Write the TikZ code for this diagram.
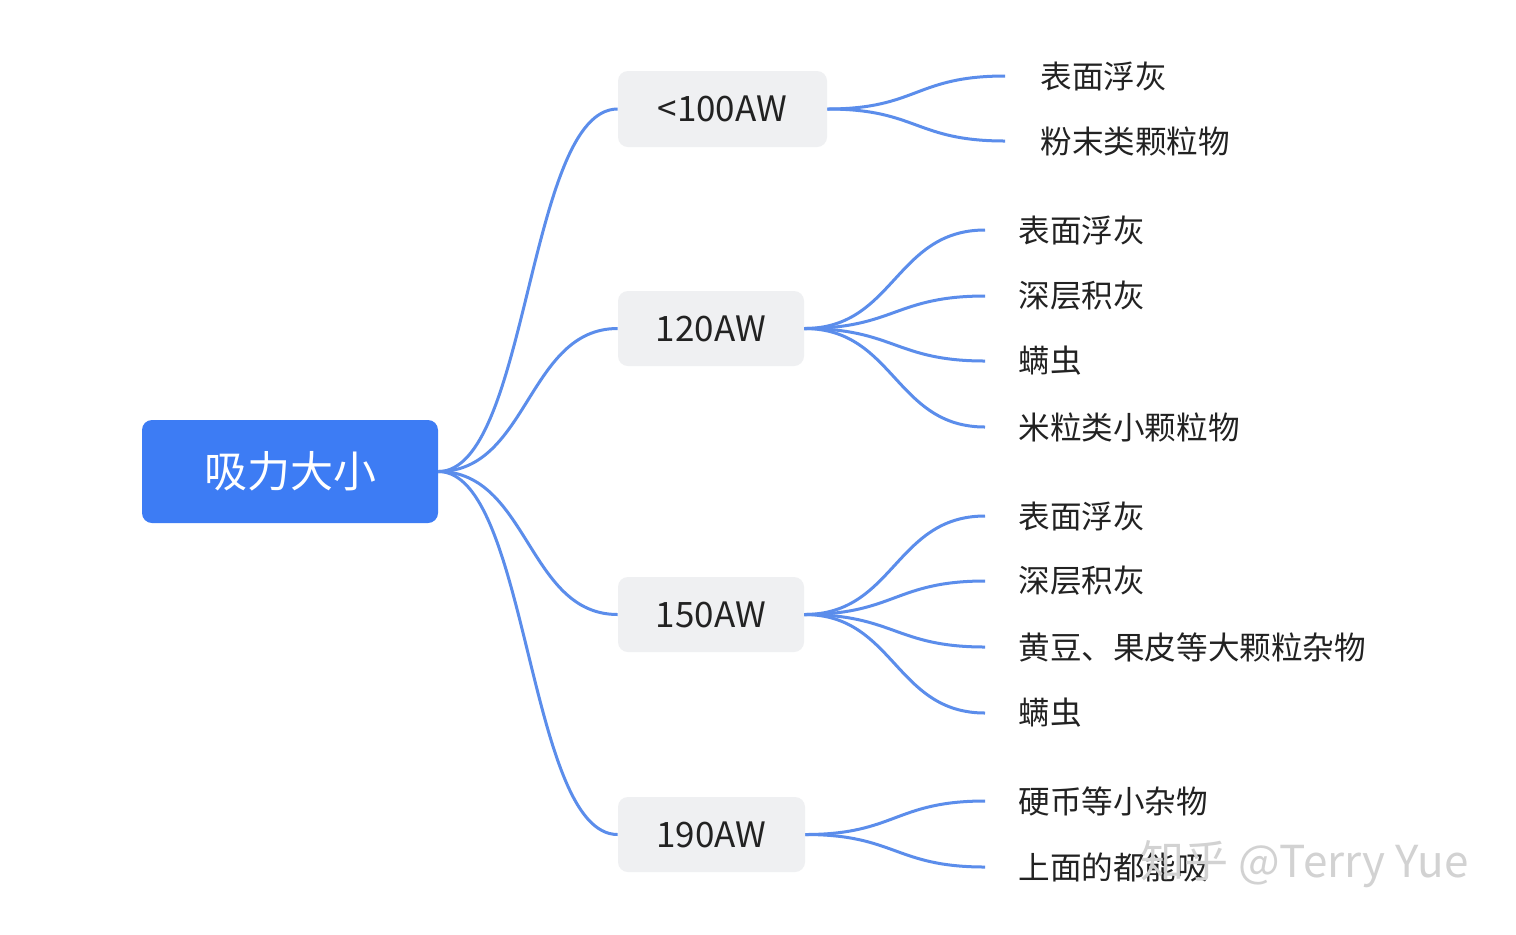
\documentclass[tikz,border=0pt]{standalone}
\usepackage{fontspec}
\usetikzlibrary{calc}
\setmainfont{Noto Sans CJK SC}
\definecolor{rootblue}{HTML}{3D7CF4}
\definecolor{midgray}{HTML}{EFF0F2}
\definecolor{linkblue}{HTML}{5B8DEB}
\definecolor{txt}{HTML}{222222}
\begin{document}
\begin{tikzpicture}[x=0.5pt,y=-0.5pt,
  rootbox/.style={fill=rootblue,rounded corners=5pt,text=white,font=\fontsize{21.5}{26}\selectfont},
  midbox/.style={fill=midgray,rounded corners=5pt,text=txt,font=\fontsize{17.5}{21}\selectfont},
  leaf/.style={anchor=west,text=txt,font=\fontsize{15.8}{19}\selectfont,inner sep=0pt},
  link/.style={draw=linkblue,line width=1.5pt}]
\useasboundingbox (0,0) rectangle (1516,934);
\path[fill=white] (0,0) rectangle (1516,934);
\node[rootbox,minimum width=148pt,minimum height=51.5pt] (r) at (290,471.5) {吸力大小};
\node[midbox,minimum width=104.5pt,minimum height=38pt] (m1) at (722.5,109) {<100AW};
\node[midbox,minimum width=93pt,minimum height=37.5pt] (m2) at (711,328.5) {120AW};
\node[midbox,minimum width=93pt,minimum height=37.5pt] (m3) at (711,614.5) {150AW};
\node[midbox,minimum width=93.5pt,minimum height=37.5pt] (m4) at (711.5,834.5) {190AW};
\foreach \m in {m1,m2,m3,m4}
  \draw[link] (r.east) .. controls ++(90,0) and ($(\m.west)+(-90,0)$) .. (\m.west);
% leaves
\newcommand{\leafx}[6]{%
  \coordinate (#1) at (#3,#4);
  \node[leaf] (#1t) at (#3+#6,#4) {#5};
  \draw[link] (#2.east) .. controls ++(90,0) and ($(#1)+(-90,0)$) .. (#1);}
\leafx{a1}{m1}{1005}{76}{表面浮灰}{35}
\leafx{a2}{m1}{1005}{141}{粉末类颗粒物}{35}
\leafx{b1}{m2}{985}{230}{表面浮灰}{33}
\leafx{b2}{m2}{985}{296}{深层积灰}{33}
\leafx{b3}{m2}{985}{361}{螨虫}{33}
\leafx{b4}{m2}{985}{427}{米粒类小颗粒物}{33}
\leafx{c1}{m3}{985}{516}{表面浮灰}{33}
\leafx{c2}{m3}{985}{581}{深层积灰}{33}
\leafx{c3}{m3}{985}{647}{黄豆、果皮等大颗粒杂物}{33}
\leafx{c4}{m3}{985}{713}{螨虫}{33}
\leafx{d1}{m4}{985}{801}{硬币等小杂物}{33}
\leafx{d2}{m4}{985}{867}{上面的都能吸}{33}
\node[anchor=west,text=white!65!gray,font=\fontsize{22}{26}\selectfont,inner sep=0pt] (wm) at (1140,864) {知乎 @Terry Yue};
\end{tikzpicture}
\end{document}
